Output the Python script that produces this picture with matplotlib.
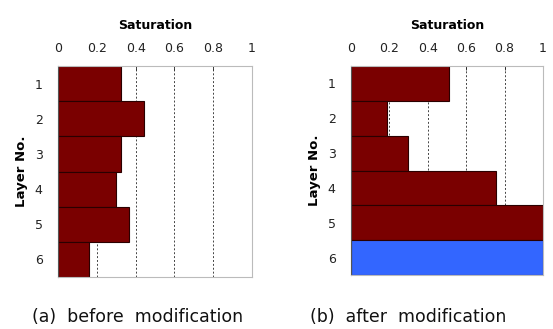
import numpy as np
import matplotlib.pyplot as plt

# Data
layers = [1, 2, 3, 4, 5, 6]
sat_before = [0.325, 0.445, 0.325, 0.30, 0.365, 0.16]
sat_after = [0.51, 0.19, 0.295, 0.755, 1.0, 1.0]
colors_before = ['#7a0000'] * 6
colors_after = ['#7a0000'] * 5 + ['#3366ff']
xticks = [0, 0.2, 0.4, 0.6, 0.8, 1]
xtick_labels = ['0', '0.2', '0.4', '0.6', '0.8', '1']
captions = ['(a)  before  modification', '(b)  after  modification']

fig = plt.figure(figsize=(5.53, 3.29), dpi=100)

# axes positions in figure fractions (left, bottom, width, height)
W, H = 553, 329
boxes = [
    (58 / W, 1 - 277 / H, 194 / W, 211 / H),
    (351 / W, 1 - 275 / H, 192 / W, 209 / H),
]
caption_x = [138 / W, 408 / W]

for box, vals, cols, cap, cx in zip(boxes, [sat_before, sat_after],
                                    [colors_before, colors_after], captions, caption_x):
    ax = fig.add_axes(box)
    for x in xticks[1:-1]:
        ax.axvline(x, color='#444444', linestyle=(0, (2, 2)), linewidth=0.7, zorder=0)
    ax.barh(layers, vals, height=1.0, color=cols, edgecolor='#2a0000',
            linewidth=0.8, zorder=2)
    ax.set_xlim(0, 1)
    ax.set_ylim(6.5, 0.5)
    ax.xaxis.tick_top()
    ax.xaxis.set_label_position('top')
    ax.set_xticks(xticks, labels=xtick_labels)
    ax.set_yticks(layers)
    ax.tick_params(axis='x', length=3, width=0.6, labelsize=9, pad=8,
                   colors='#222222', direction='in')
    ax.tick_params(axis='y', length=0, labelsize=9, pad=11, colors='#222222')
    ax.set_xlabel('Saturation', fontsize=9, fontweight='bold', labelpad=9)
    ax.set_ylabel('Layer No.', fontsize=9.5, fontweight='bold', labelpad=5)
    for s in ax.spines.values():
        s.set_color('#bbbbbb')
        s.set_linewidth(0.8)
    ax.spines['left'].set_color('#555555')

    fig.text(cx, 1 - 317 / H, cap, ha='center', va='center',
             fontsize=12.5, color='#111111')

fig.savefig('out.png', dpi=100)
